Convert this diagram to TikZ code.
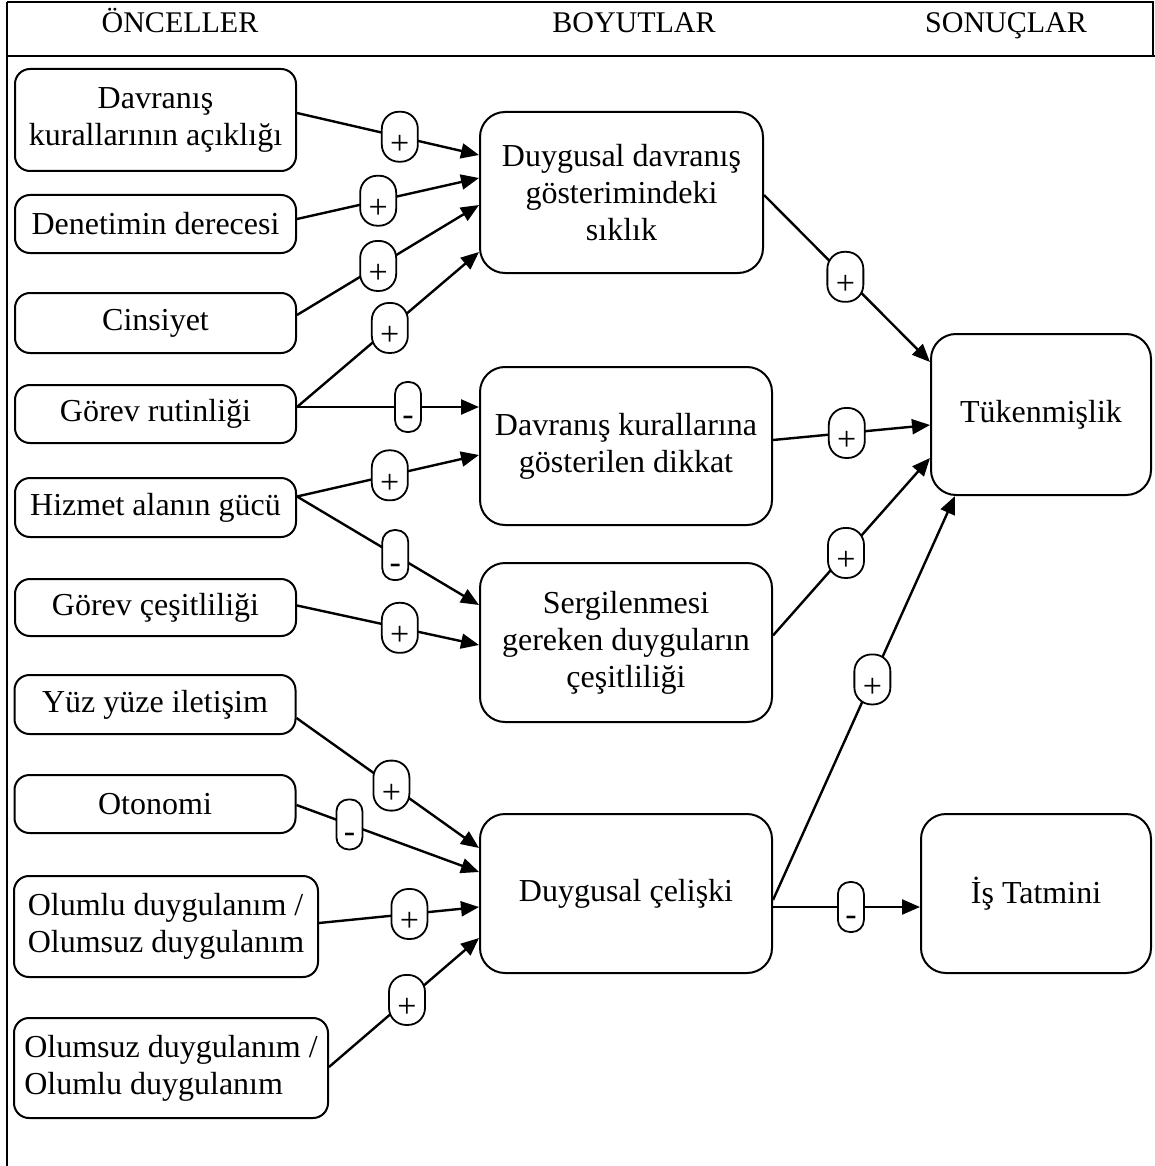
\documentclass[tikz,border=0pt]{standalone}
\usepackage{fontspec}
\setmainfont{Liberation Serif}
\usetikzlibrary{arrows.meta}

\newcommand\labelfont{\fontsize{32}{37}\selectfont}
\newcommand\headfont{\fontsize{30}{34}\selectfont}
\newcommand\signfont{\fontsize{34}{34}\selectfont}
% sign set low inside its pill
\newcommand\sign[1]{\smash{\raisebox{-18pt}{#1}}}

\begin{document}
\begin{tikzpicture}[x=1pt,y=-1pt,
  frame/.style={line width=2.2pt},
  factor/.style={draw, line width=2pt, rounded corners=15pt, align=center,
                 inner sep=0pt, font=\labelfont},
  construct/.style={factor, rounded corners=25pt},
  conn/.style={line width=2.4pt, -{Triangle[length=18pt,width=15pt]}},
  pill/.style={draw, fill=white, line width=1.8pt, inner sep=0pt,
               minimum height=50pt, font=\signfont},
  plusmark/.style={pill, minimum width=36pt, rounded corners=17pt},
  minusmark/.style={pill, minimum width=26pt, rounded corners=12pt},
]
\useasboundingbox (0,0) rectangle (1155,1166);

% table frame and header row
\draw[frame] (7,2) -- (1153,2) -- (1153,56);
\draw[frame] (7,2) -- (7,1166);
\draw[frame] (7,56) -- (1155,56);
\node[anchor=base, font=\headfont] (h1) at (180,33) {ÖNCELLER};
\node[anchor=base, font=\headfont] (h2) at (634,33) {BOYUTLAR};
\node[anchor=base, font=\headfont] (h3) at (1006,33) {SONUÇLAR};

% antecedents
\node[factor, minimum width=281pt, minimum height=102pt] (dav) at (155.5,120) {Davranış\\kurallarının açıklığı};
\node[factor, minimum width=281pt, minimum height=58pt] (den) at (155.5,224) {Denetimin derecesi};
\node[factor, minimum width=281pt, minimum height=60pt] (cin) at (155.5,323) {Cinsiyet};
\node[factor, minimum width=281pt, minimum height=58pt] (gor) at (155.5,414) {Görev rutinliği};
\node[factor, minimum width=281pt, minimum height=59pt] (hiz) at (155.5,507.5) {Hizmet alanın gücü};
\node[factor, minimum width=281pt, minimum height=57pt] (gc) at (155.5,607.5) {Görev çeşitliliği};
\node[factor, minimum width=281pt, minimum height=59pt] (yuz) at (155,704.5) {Yüz yüze iletişim};
\node[factor, minimum width=281pt, minimum height=58pt] (oto) at (155,804) {Otonomi};
\node[factor, align=left, minimum width=304pt, minimum height=101pt] (olp) at (166,926.5) {Olumlu duygulanım /\\Olumsuz duygulanım};
\node[factor, align=left, minimum width=314pt, minimum height=100pt] (oln) at (171,1068) {Olumsuz duygulanım /\\Olumlu duygulanım};

% dimensions
\node[construct, minimum width=283pt, minimum height=161pt] (A) at (621.5,192.5) {Duygusal davranış\\gösterimindeki\\sıklık};
\node[construct, minimum width=292pt, minimum height=158pt] (B) at (626,446) {Davranış kurallarına\\gösterilen dikkat};
\node[construct, minimum width=292pt, minimum height=159pt] (C) at (626,642.5) {Sergilenmesi\\gereken duyguların\\çeşitliliği};
\node[construct, minimum width=292pt, minimum height=159pt] (D) at (626,893.5) {Duygusal çelişki};

% outcomes
\node[construct, minimum width=220pt, minimum height=161pt] (T) at (1041,414.5) {Tükenmişlik};
\node[construct, minimum width=230pt, minimum height=159pt] (I) at (1036,893.5) {İş Tatmini};

% antecedents -> dimensions
\draw[conn] ([yshift=7pt]dav.east) -- node[plusmark, pos=0.565] (p1) {\sign{+}} ([yshift=37.5pt]A.west);
\draw[conn] ([yshift=5pt]den.east) -- node[plusmark, pos=0.446] (p2) {\sign{+}} ([yshift=14.5pt]A.west);
\draw[conn] ([yshift=8pt]cin.east) -- node[plusmark, pos=0.446] (p3) {\sign{+}} ([yshift=-12.5pt]A.west);
\draw[conn] ([yshift=7pt]gor.east) -- node[plusmark, pos=0.51] (p4) {\sign{+}} ([yshift=-59.5pt]A.west);
\draw[conn] ([yshift=7pt]gor.east) -- node[minusmark, pos=0.61] (m1) {\sign{-}} ([yshift=39pt]B.west);
\draw[conn] ([yshift=11pt]hiz.east) -- node[plusmark, pos=0.51] (p5) {\sign{+}} ([yshift=-9pt]B.west);
\draw[conn] ([yshift=11pt]hiz.east) -- node[minusmark, pos=0.54] (m2) {\sign{-}} ([yshift=37.5pt]C.west);
\draw[conn] ([yshift=2pt]gc.east) -- node[plusmark, pos=0.565] (p6) {\sign{+}} ([yshift=-2.5pt]C.west);
\draw[conn] ([yshift=-13.5pt]yuz.east) -- node[plusmark, pos=0.52] (p7) {\sign{+}} ([yshift=45.5pt]D.west);
\draw[conn] ([yshift=-1pt]oto.east) -- node[minusmark, pos=0.29] (m3) {\sign{-}} ([yshift=21.5pt]D.west);
\draw[conn] ([yshift=3.5pt]olp.east) -- node[plusmark, pos=0.565] (p8) {\sign{+}} ([yshift=-13.5pt]D.west);
\draw[conn] ([yshift=1pt]oln.east) -- node[plusmark, pos=0.52] (p9) {\sign{+}} ([yshift=-44.5pt]D.west);

% dimensions -> outcomes
\draw[conn] ([yshift=-2.5pt]A.east) -- node[plusmark, pos=0.49] (p10) {\sign{+}} ([yshift=52.5pt]T.west);
\draw[conn] ([yshift=6pt]B.east) -- node[plusmark, pos=0.47] (p11) {\sign{+}} ([yshift=-10.5pt]T.west);
\draw[conn] ([yshift=7pt]C.east) -- node[plusmark, pos=0.465] (p12) {\sign{+}} ([yshift=-43.5pt]T.west);
\draw[conn] ([yshift=-6.5pt]D.east) -- node[plusmark, pos=0.546] (p13) {\sign{+}} ([xshift=-86pt]T.south);
\draw[conn] ([yshift=-13.5pt]D.east) -- node[minusmark, pos=0.53] (m4) {\sign{-}} ([yshift=-13.5pt]I.west);
\end{tikzpicture}
\end{document}
